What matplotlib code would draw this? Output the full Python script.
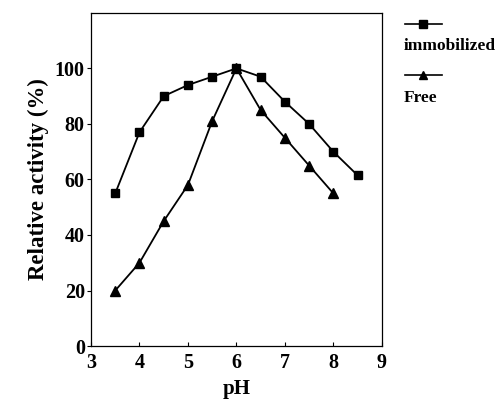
import matplotlib
matplotlib.use("Agg")
import matplotlib.pyplot as plt
from matplotlib.lines import Line2D

ph_immob = [3.5, 4, 4.5, 5, 5.5, 6, 6.5, 7, 7.5, 8, 8.5]
act_immob = [55, 77, 90, 94, 97, 100, 97, 88, 80, 70, 61.5]
ph_free = [3.5, 4, 4.5, 5, 5.5, 6, 6.5, 7, 7.5, 8]
act_free = [20, 30, 45, 58, 81, 100, 85, 75, 65, 55]
series_names = ["immobilized", "Free"]
xticks = [3, 4, 5, 6, 7, 8, 9]
yticks = [0, 20, 40, 60, 80, 100]

plt.rcParams['font.family'] = ['Liberation Serif', 'DejaVu Serif']
plt.rcParams['font.weight'] = 'bold'

fig = plt.figure(figsize=(5.03, 4.01), dpi=100)
ax = fig.add_axes([0.181, 0.137, 0.578, 0.831])

ax.plot(ph_immob, act_immob, color='black', lw=1.3, marker='s', ms=6, label=series_names[0])
ax.plot(ph_free, act_free, color='black', lw=1.3, marker='^', ms=7, label=series_names[1])

ax.set_xlim(3, 9)
ax.set_ylim(0, 120)
ax.set_xticks(xticks)
ax.set_yticks(yticks)
ax.tick_params(axis='both', labelsize=14.5, length=3, width=0.8)
ax.tick_params(axis='x', direction='in', pad=5)
ax.tick_params(axis='y', direction='out', pad=1.5)
for lab in ax.get_xticklabels() + ax.get_yticklabels():
    lab.set_fontweight('bold')
for s in ax.spines.values():
    s.set_linewidth(0.9)

ax.set_xlabel('pH', fontsize=15, fontweight='bold', labelpad=4)
ax.set_ylabel('Relative activity (%)', fontsize=16.5, fontweight='bold', labelpad=4)

# manual legend: handle above label, outside right
markers = ['s', '^']
line_y = [0.940, 0.813]
text_y = [0.885, 0.755]
for name, m, ly, ty in zip(series_names, markers, line_y, text_y):
    fig.add_artist(Line2D([0.805, 0.878], [ly, ly], transform=fig.transFigure,
                          color='black', lw=1.2))
    fig.add_artist(Line2D([0.841], [ly], transform=fig.transFigure,
                          color='black', marker=m, ms=6, lw=0))
    fig.text(0.803, ty, name, fontsize=12.5, fontweight='bold', va='center', ha='left')

fig.savefig('out.png', dpi=100)
